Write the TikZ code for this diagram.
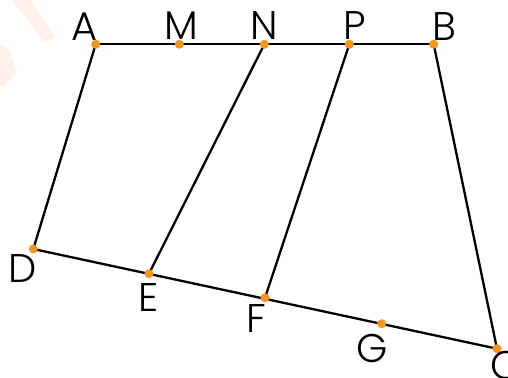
\documentclass[tikz,border=0pt]{standalone}
\usepackage{fontspec}
\setmainfont{Poppins}[UprightFont=* Light]
\definecolor{dotor}{RGB}{247,148,30}
\definecolor{wm}{RGB}{255,240,234}
\tikzset{
  pt/.style={circle,fill=dotor,inner sep=0pt,minimum size=9pt},
  lbl/.style={inner sep=0pt,font=\fontsize{40}{40}\selectfont},
  seg/.style={line width=2.3pt,black}
}
\begin{document}
\begin{tikzpicture}[x=1pt,y=-1pt]
\useasboundingbox (0,0) rectangle (508,377);
\clip (0,0) rectangle (508,377);
% faint watermark
\fill[wm] (12,0) -- (30,0) -- (56,38) -- (44,42) -- cycle;
\fill[wm] (0,45) -- (8,48) -- (17,72) -- (4,86) -- (0,86) -- cycle;
% points
\coordinate (A) at (95.7,44.3);
\coordinate (M) at (179.3,44.3);
\coordinate (N) at (264.3,44.3);
\coordinate (P) at (349.3,44.3);
\coordinate (B) at (433.7,44.3);
\coordinate (D) at (33.3,249);
\coordinate (E) at (149,273.7);
\coordinate (F) at (265,297.7);
\coordinate (G) at (381.7,323.7);
\coordinate (C) at (497,348.7);
% segments
\draw[seg] (A) -- (B);
\draw[seg] (A) -- (D);
\draw[seg] (D) -- (C);
\draw[seg] (B) -- (C);
\draw[seg] (N) -- (E);
\draw[seg] (P) -- (F);
% dots
\foreach \p in {A,M,N,P,B,D,E,F,G,C} \node[pt] (d\p) at (\p) {};
% labels
\node[lbl] (lA) at (84.7,26.5) {A};
\node[lbl] (lM) at (181.5,26) {M};
\node[lbl] (lN) at (264.7,26) {N};
\node[lbl] (lP) at (355,26) {P};
\node[lbl] (lB) at (444,27) {B};
\node[lbl] (lD) at (23,268.5) {D};
\node[lbl] (lE) at (148.5,297) {E};
\node[lbl] (lF) at (256.5,318.5) {F};
\node[lbl] (lG) at (372.5,348.5) {G};
\node[lbl] (lC) at (506,365) {C};
\end{tikzpicture}
\end{document}
